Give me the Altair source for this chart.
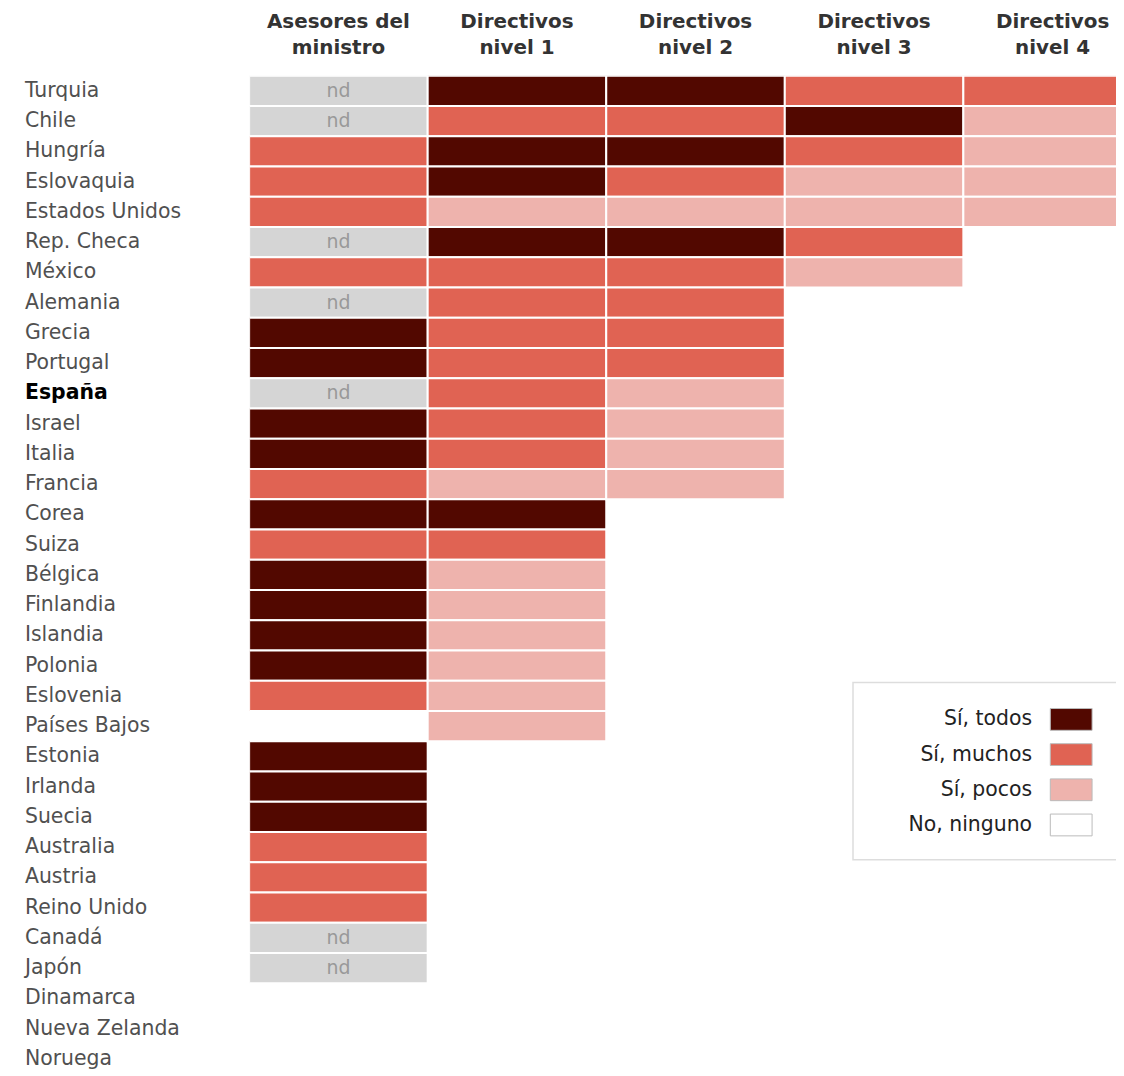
import altair as alt
import pandas as pd

countries = ["Turquia", "Chile", "Hungría", "Eslovaquia", "Estados Unidos", "Rep. Checa",
             "México", "Alemania", "Grecia", "Portugal", "España", "Israel", "Italia",
             "Francia", "Corea", "Suiza", "Bélgica", "Finlandia", "Islandia", "Polonia",
             "Eslovenia", "Países Bajos", "Estonia", "Irlanda", "Suecia", "Australia",
             "Austria", "Reino Unido", "Canadá", "Japón", "Dinamarca", "Nueva Zelanda", "Noruega"]

header_line1 = ["Asesores del", "Directivos", "Directivos", "Directivos", "Directivos"]
header_line2 = ["ministro", "nivel 1", "nivel 2", "nivel 3", "nivel 4"]

# T = Sí, todos; M = Sí, muchos; P = Sí, pocos; N = No, ninguno; D = nd
asesores = ["D", "D", "M", "M", "M", "D", "M", "D", "T", "T", "D", "T", "T", "M", "T", "M",
            "T", "T", "T", "T", "M", "N", "T", "T", "T", "M", "M", "M", "D", "D", "N", "N", "N"]
nivel1 = ["T", "M", "T", "T", "P", "T", "M", "M", "M", "M", "M", "M", "M", "P", "T", "M",
          "P", "P", "P", "P", "P", "P", "N", "N", "N", "N", "N", "N", "N", "N", "N", "N", "N"]
nivel2 = ["T", "M", "T", "M", "P", "T", "M", "M", "M", "M", "P", "P", "P", "P", "N", "N",
          "N", "N", "N", "N", "N", "N", "N", "N", "N", "N", "N", "N", "N", "N", "N", "N", "N"]
nivel3 = ["M", "T", "M", "P", "P", "M", "P"] + ["N"] * 26
nivel4 = ["M", "P", "P", "P", "P"] + ["N"] * 28

categories = ["Sí, todos", "Sí, muchos", "Sí, pocos", "No, ninguno", "nd"]
cat_colors = ["#520800", "#e06353", "#eeb3ad", "#ffffff", "#d5d5d5"]
code_to_cat = {"T": "Sí, todos", "M": "Sí, muchos", "P": "Sí, pocos", "N": "No, ninguno", "D": "nd"}

cols = [asesores, nivel1, nivel2, nivel3, nivel4]
recs = []
for ci, col in enumerate(cols):
    for ri, code in enumerate(col):
        if code == "N":
            continue
        recs.append({"c0": ci, "c1": ci + 1, "cm": ci + 0.5,
                     "r0": ri, "r1": ri + 1, "rm": ri + 0.5,
                     "cat": code_to_cat[code], "nd": "nd" if code == "D" else ""})
cells = pd.DataFrame(recs)

labels = pd.DataFrame({"country": countries, "rm": [i + 0.5 for i in range(len(countries))],
                       "bold": [c == "España" for c in countries]})
headers = pd.DataFrame({"cm": [i + 0.5 for i in range(5)], "l1": header_line1, "l2": header_line2})

W = 870
H = 988
COLW = 179.2
ROWH = 30.36
xscale = alt.Scale(domain=[0, W / COLW], nice=False, zero=False)
yscale = alt.Scale(domain=[0, H / ROWH], nice=False, zero=False, reverse=True)
color_scale = alt.Scale(domain=categories, range=cat_colors)

FONT = "DejaVu Sans"
FS = 20.5

# custom legend layout (in column / row units of the grid)
LEG_ROW0 = 21.28
LEG_STEP = 1.163
legend_df = pd.DataFrame({
    "cat": categories[:4],
    "rm": [LEG_ROW0 + i * LEG_STEP for i in range(4)],
})
legend_df["r0"] = legend_df["rm"] - 0.36
legend_df["r1"] = legend_df["rm"] + 0.36
legend_df["s0"] = 4.487
legend_df["s1"] = 4.721
legend_df["tx"] = 4.385
legend_box = pd.DataFrame({"x0": [3.382], "x1": [5.2], "y0": [20.06], "y1": [25.92]})

rects = alt.Chart(cells).mark_rect(stroke="white", strokeWidth=2, clip=True).encode(
    x=alt.X("c0:Q", scale=xscale, axis=None),
    x2="c1:Q",
    y=alt.Y("r0:Q", scale=yscale, axis=None),
    y2="r1:Q",
    fill=alt.Fill("cat:N", scale=color_scale, legend=None),
)

nd_text = alt.Chart(cells).transform_filter(alt.datum.nd == "nd").mark_text(
    font=FONT, fontSize=19, color="#999999", baseline="middle", align="center"
).encode(
    x=alt.X("cm:Q", scale=xscale, axis=None),
    y=alt.Y("rm:Q", scale=yscale, axis=None),
    text="nd:N",
)

country_text = alt.Chart(labels).transform_filter(~alt.datum.bold).mark_text(
    font=FONT, fontSize=FS, color="#505050", align="left", baseline="middle"
).encode(
    x=alt.value(-225),
    y=alt.Y("rm:Q", scale=yscale, axis=None),
    text="country:N",
)

country_bold = alt.Chart(labels).transform_filter(alt.datum.bold).mark_text(
    font=FONT, fontSize=FS, color="#000000", align="left", baseline="middle", fontWeight="bold"
).encode(
    x=alt.value(-225),
    y=alt.Y("rm:Q", scale=yscale, axis=None),
    text="country:N",
)

head1 = alt.Chart(headers).mark_text(
    font=FONT, fontSize=20, fontWeight="bold", color="#333333", align="center", baseline="middle"
).encode(
    x=alt.X("cm:Q", scale=xscale, axis=None),
    y=alt.value(-54),
    text="l1:N",
)
head2 = alt.Chart(headers).mark_text(
    font=FONT, fontSize=20, fontWeight="bold", color="#333333", align="center", baseline="middle"
).encode(
    x=alt.X("cm:Q", scale=xscale, axis=None),
    y=alt.value(-28),
    text="l2:N",
)

leg_frame = alt.Chart(legend_box).mark_rect(
    fill="white", stroke="#dddddd", strokeWidth=1.5, clip=True
).encode(
    x=alt.X("x0:Q", scale=xscale, axis=None), x2="x1:Q",
    y=alt.Y("y0:Q", scale=yscale, axis=None), y2="y1:Q",
)

leg_swatch = alt.Chart(legend_df).mark_rect(stroke="#bbbbbb", strokeWidth=1).encode(
    x=alt.X("s0:Q", scale=xscale, axis=None), x2="s1:Q",
    y=alt.Y("r0:Q", scale=yscale, axis=None), y2="r1:Q",
    fill=alt.Fill("cat:N", scale=color_scale, legend=None),
)

leg_text = alt.Chart(legend_df).mark_text(
    font=FONT, fontSize=FS, color="#222222", align="right", baseline="middle"
).encode(
    x=alt.X("tx:Q", scale=xscale, axis=None),
    y=alt.Y("rm:Q", scale=yscale, axis=None),
    text="cat:N",
)

chart = alt.layer(rects, nd_text, country_text, country_bold, head1, head2,
                  leg_frame, leg_swatch, leg_text).properties(
    width=W, height=H,
    autosize=alt.AutoSizeParams(type="none"),
    padding={"left": 242, "top": 66, "right": 0, "bottom": 8},
).configure_view(stroke=None)

chart.save("out.html", embed_options={"renderer": "svg", "actions": False})
